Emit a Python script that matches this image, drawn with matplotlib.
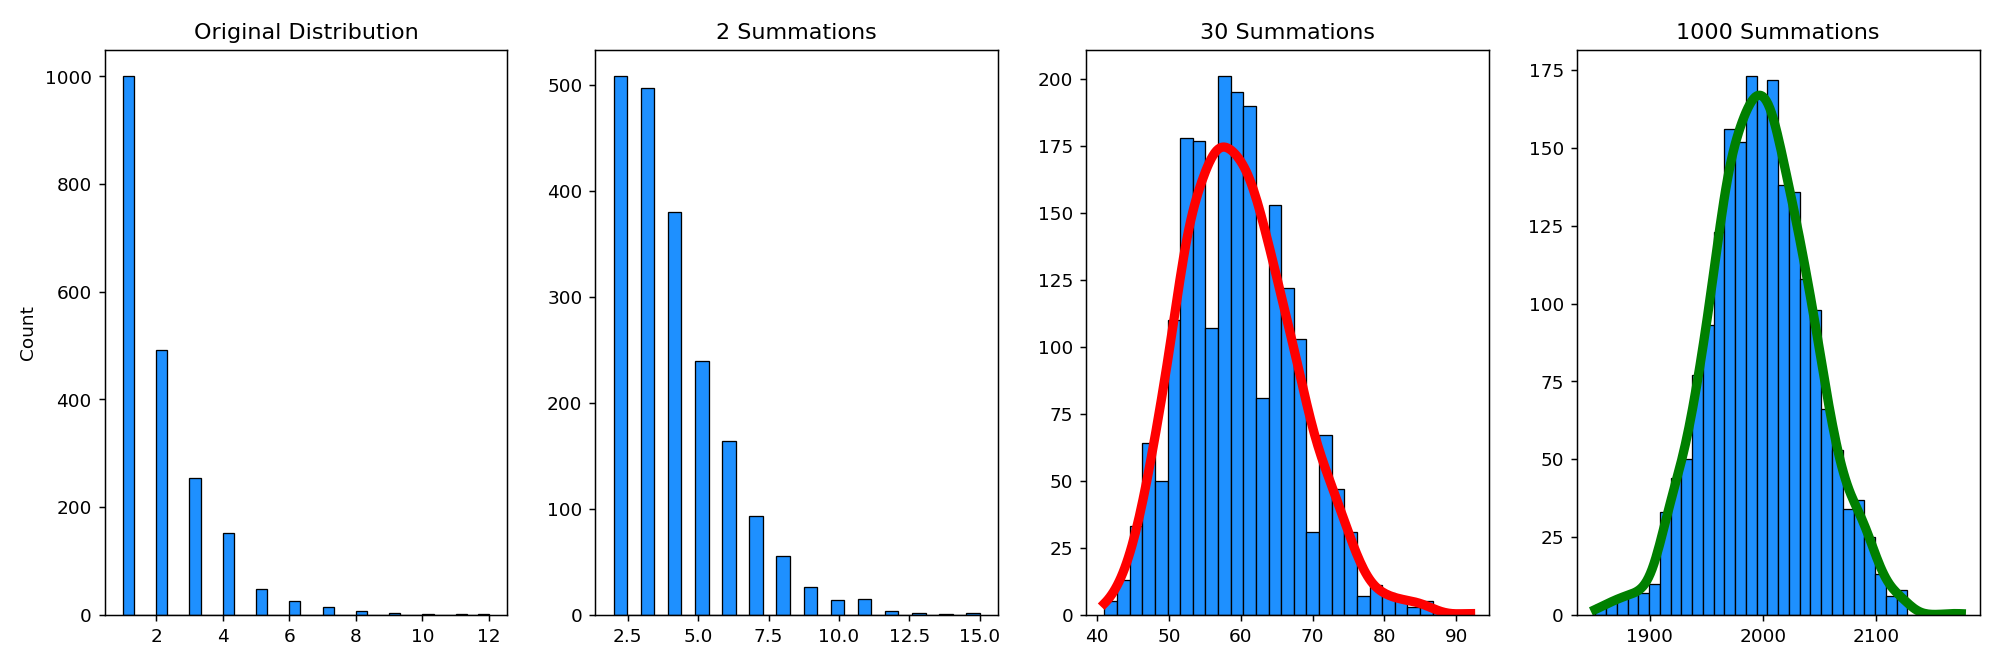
import numpy as np
import matplotlib
matplotlib.use("Agg")
import matplotlib.pyplot as plt
import seaborn as sns

titles = ["Original Distribution", "2 Summations", "30 Summations", "1000 Summations"]

# Panel 1: original (geometric-like) distribution, integer values and their counts
orig_values = np.arange(1, 13)
orig_counts = [1000, 491, 254, 152, 48, 25, 15, 7, 4, 2, 1, 1]
orig_nbins = 33

# Panel 2: sum of 2 draws
sum2_values = np.arange(2, 16)
sum2_counts = [508, 497, 380, 239, 164, 93, 55, 26, 14, 15, 4, 2, 1, 2]
sum2_nbins = 27

# Panel 3: sum of 30 draws, integer values 41..92 and estimated counts
sum30_values = np.arange(41, 93)
sum30_counts = [2, 3, 6, 7, 16, 17, 31, 33, 50, 54,
                56, 89, 89, 88, 89, 107, 100, 101, 98, 97,
                96, 94, 81, 78, 75, 62, 60, 53, 50, 31,
                35, 32, 25, 22, 17, 14, 7, 6, 5, 4,
                4, 3, 3, 3, 3, 2, 1, 0, 0, 0,
                0, 1]
sum30_nbins = 29

# Panel 4: sum of 1000 draws (bin counts over the data range)
sum1000_range = (1852, 2175)
sum1000_counts = [3, 4, 6, 7, 7, 10, 33, 44, 50, 77,
                  93, 123, 156, 152, 173, 167, 172, 138, 136, 108,
                  98, 66, 53, 34, 37, 25, 13, 6, 8, 0,
                  0, 0, 0, 1]


def binned_sample(rng, counts):
    edges = np.linspace(rng[0], rng[1], len(counts) + 1)
    centers = (edges[:-1] + edges[1:]) / 2
    return edges, np.repeat(centers, counts)


fig, axes = plt.subplots(1, 4, figsize=(15, 5.004), dpi=400 / 3)
fig.subplots_adjust(left=0.0523, right=0.9898, top=0.9255, bottom=0.0783, wspace=0.2184)

bar_kw = dict(color="dodgerblue", edgecolor="black", linewidth=0.7, alpha=1)

sns.histplot(x=orig_values, weights=orig_counts, bins=orig_nbins, ax=axes[0], **bar_kw)
sns.histplot(x=sum2_values, weights=sum2_counts, bins=sum2_nbins, ax=axes[1], **bar_kw)

sample30 = np.repeat(sum30_values, sum30_counts)
sns.histplot(x=sample30, bins=sum30_nbins, kde=True,
             line_kws={"linewidth": 5}, ax=axes[2], **bar_kw)
axes[2].lines[0].set_color("red")

edges1000, sample1000 = binned_sample(sum1000_range, sum1000_counts)
sns.histplot(x=sample1000, bins=edges1000, kde=True, kde_kws={"cut": 0.5},
             line_kws={"linewidth": 5}, ax=axes[3], **bar_kw)
axes[3].lines[0].set_color("green")

for i, ax in enumerate(axes):
    ax.set_title(titles[i])
    ax.set_xlabel("")
    if i > 0:
        ax.set_ylabel("")
    else:
        ax.set_ylabel("Count")

fig.savefig("out.png")
